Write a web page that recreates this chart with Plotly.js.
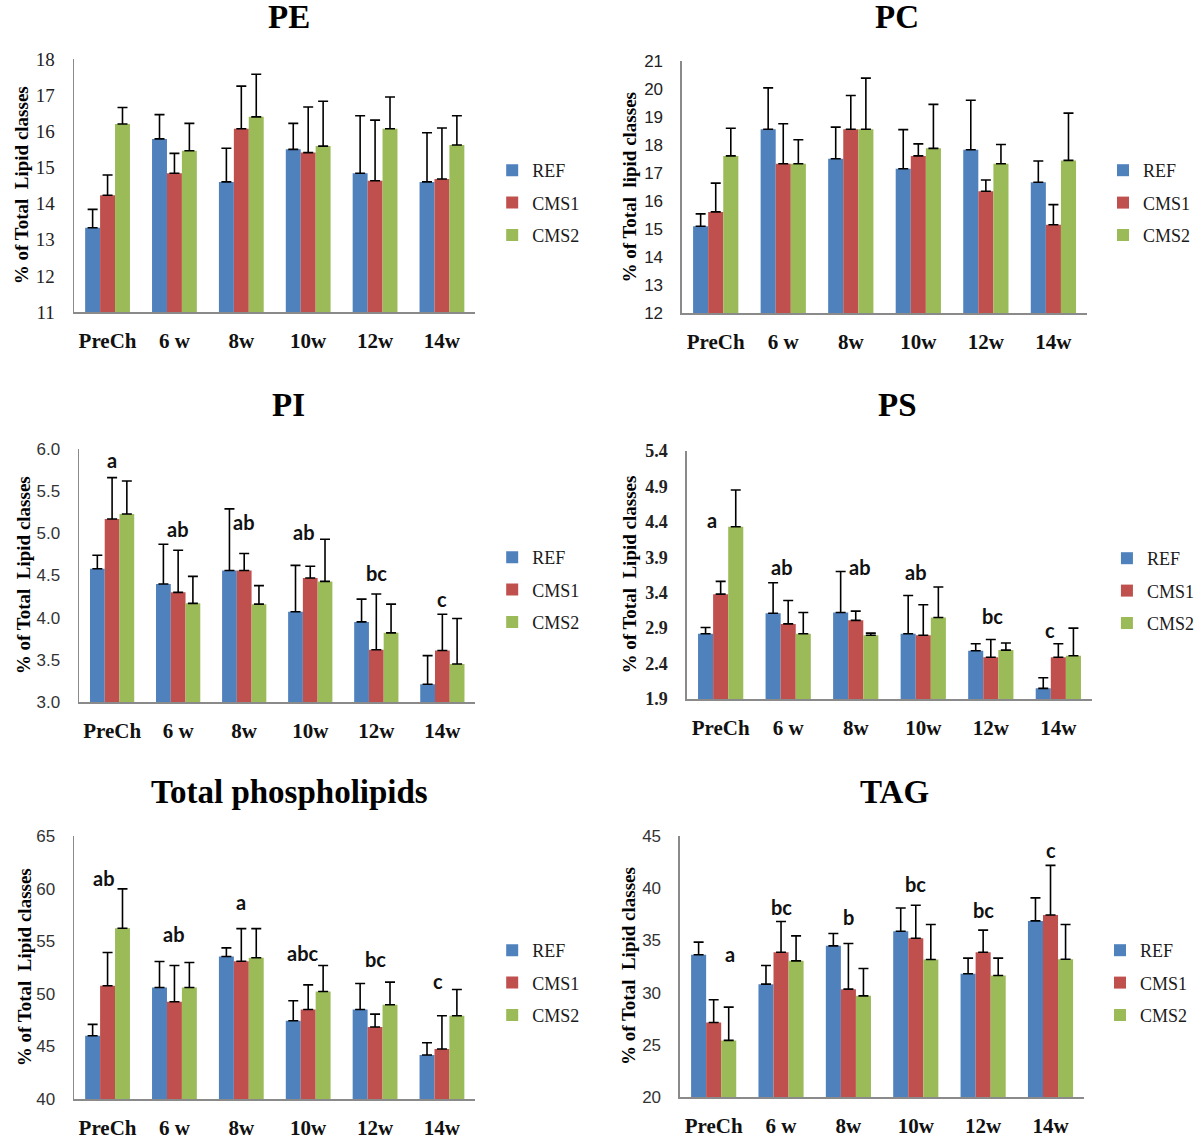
<!DOCTYPE html>
<html>
<head>
<meta charset="utf-8">
<script src="https://cdn.plot.ly/plotly-3.0.1.min.js"></script>
<style>html,body{margin:0;padding:0;background:#fff;}#chart{width:1200px;height:1142px;}</style>
</head>
<body>
<div id="chart"></div>
<script>
// ---------- data ----------
const categories = ['PreCh', '6 w', '8w', '10w', '12w', '14w'];
const seriesNames = ['REF', 'CMS1', 'CMS2'];

const PE_REF = [13.33, 15.79, 14.60, 15.50, 14.84, 14.60];
const PE_REF_SD = [0.51, 0.67, 0.93, 0.72, 1.59, 1.36];
const PE_CMS1 = [14.23, 14.84, 16.07, 15.41, 14.63, 14.68];
const PE_CMS1_SD = [0.56, 0.55, 1.18, 1.26, 1.68, 1.41];
const PE_CMS2 = [16.20, 15.46, 16.40, 15.59, 16.07, 15.62];
const PE_CMS2_SD = [0.46, 0.76, 1.18, 1.24, 0.88, 0.81];

const PC_REF = [15.10, 18.56, 17.51, 17.15, 17.83, 16.67];
const PC_REF_SD = [0.44, 1.48, 1.13, 1.40, 1.77, 0.76];
const PC_CMS1 = [15.61, 17.33, 18.56, 17.61, 16.35, 15.15];
const PC_CMS1_SD = [1.03, 1.43, 1.21, 0.43, 0.40, 0.72];
const PC_CMS2 = [17.61, 17.33, 18.56, 17.88, 17.33, 17.45];
const PC_CMS2_SD = [0.99, 0.86, 1.83, 1.57, 0.69, 1.69];

const PI_REF = [4.58, 4.40, 4.56, 4.07, 3.95, 3.21];
const PI_REF_SD = [0.16, 0.47, 0.73, 0.55, 0.27, 0.34];
const PI_CMS1 = [5.17, 4.30, 4.56, 4.47, 3.62, 3.61];
const PI_CMS1_SD = [0.49, 0.50, 0.20, 0.14, 0.66, 0.43];
const PI_CMS2 = [5.23, 4.17, 4.16, 4.43, 3.82, 3.45];
const PI_CMS2_SD = [0.39, 0.32, 0.22, 0.50, 0.34, 0.54];
const PI_LETTERS = ['a', 'ab', 'ab', 'ab', 'bc', 'c'];
const PI_LETTER_Y = [5.87, 5.05, 5.14, 5.02, 4.53, 4.22];

const PS_REF = [2.82, 3.11, 3.12, 2.82, 2.58, 2.05];
const PS_REF_SD = [0.09, 0.43, 0.58, 0.54, 0.10, 0.15];
const PS_CMS1 = [3.38, 2.96, 3.01, 2.80, 2.49, 2.49];
const PS_CMS1_SD = [0.18, 0.33, 0.13, 0.43, 0.25, 0.19];
const PS_CMS2 = [4.33, 2.82, 2.80, 3.05, 2.59, 2.51];
const PS_CMS2_SD = [0.52, 0.30, 0.03, 0.43, 0.10, 0.39];
const PS_LETTERS = ['a', 'ab', 'ab', 'ab', 'bc', 'c'];
const PS_LETTER_Y = [4.43, 3.77, 3.77, 3.69, 3.07, 2.88];

const TPL_REF = [46.01, 50.60, 53.54, 47.44, 48.51, 44.18];
const TPL_REF_SD = [1.08, 2.47, 0.83, 1.90, 2.47, 1.17];
const TPL_CMS1 = [50.76, 49.24, 53.10, 48.51, 46.84, 44.75];
const TPL_CMS1_SD = [3.16, 3.45, 3.10, 2.34, 1.23, 3.16];
const TPL_CMS2 = [56.23, 50.60, 53.42, 50.22, 48.96, 47.91];
const TPL_CMS2_SD = [3.74, 2.37, 2.78, 2.47, 2.15, 2.50];
const TPL_LETTERS = ['ab', 'ab', 'a', 'abc', 'bc', 'c'];
const TPL_LETTER_Y = [60.98, 55.66, 58.77, 53.86, 53.29, 51.23];

const TAG_REF = [33.62, 30.81, 34.48, 35.88, 31.80, 36.87];
const TAG_REF_SD = [1.21, 1.79, 1.18, 2.23, 1.50, 2.20];
const TAG_CMS1 = [27.14, 33.87, 30.33, 35.21, 33.87, 37.44];
const TAG_CMS1_SD = [2.17, 2.94, 4.37, 3.16, 2.11, 4.75];
const TAG_CMS2 = [25.42, 33.04, 29.69, 33.17, 31.64, 33.20];
const TAG_CMS2_SD = [3.19, 2.39, 2.62, 3.35, 1.66, 3.32];
const TAG_LETTERS = ['a', 'bc', 'b', 'bc', 'bc', 'c'];
const TAG_LETTER_Y = [33.71, 38.18, 37.22, 40.38, 37.92, 43.66];

// ---------- styling / layout ----------
const W = 1200, H = 1142;
const colors = ['#4F81BD', '#C0504D', '#9BBB59'];
const SERIF = 'Liberation Serif, Times New Roman, serif';
const SANS = 'Liberation Sans, Arial, sans-serif';

const panels = [
  {title: 'PE', vals: [PE_REF, PE_CMS1, PE_CMS2], sds: [PE_REF_SD, PE_CMS1_SD, PE_CMS2_SD],
   range: [11, 18], dtick: 1, fmt: 'd', tickFont: {family: SERIF, size: 19, color: '#222'},
   px: [75, 481], py: [59, 312], ytitle: '% of Total  Lipid classes', ytx: 22, legX: 498, legY: 203,
   titleX: 292, titleY: 17},
  {title: 'PC', vals: [PC_REF, PC_CMS1, PC_CMS2], sds: [PC_REF_SD, PC_CMS1_SD, PC_CMS2_SD],
   range: [12, 21], dtick: 1, fmt: 'd', tickFont: {family: SANS, size: 17, color: '#222'},
   px: [690, 1100], py: [61, 313], ytitle: '% of Total  lipid classes', ytx: 636, legX: 1116, legY: 203,
   titleX: 908, titleY: 17},
  {title: 'PI', vals: [PI_REF, PI_CMS1, PI_CMS2], sds: [PI_REF_SD, PI_CMS1_SD, PI_CMS2_SD],
   range: [3.0, 6.0], dtick: 0.5, fmt: '.1f', tickFont: {family: SANS, size: 17, color: '#333'},
   px: [80, 481], py: [449, 702], ytitle: '% of Total  Lipid classes', ytx: 24, legX: 498, legY: 590,
   titleX: 292, titleY: 405, letters: PI_LETTERS, letterY: PI_LETTER_Y, shifts: [0, 0, 0, -6, 0, 0]},
  {title: 'PS', vals: [PS_REF, PS_CMS1, PS_CMS2], sds: [PS_REF_SD, PS_CMS1_SD, PS_CMS2_SD],
   range: [1.9, 5.4], dtick: 0.5, fmt: '.1f', tickFont: {family: SERIF, size: 18, color: '#222', weight: 'bold'},
   px: [695, 1105], py: [451, 699], ytitle: '% of Total  Lipid classes', ytx: 636, legX: 1120, legY: 591,
   titleX: 908, titleY: 405, letters: PS_LETTERS, letterY: PS_LETTER_Y, shifts: [-9, -6, 4, -7, 2, -8]},
  {title: 'Total phospholipids', vals: [TPL_REF, TPL_CMS1, TPL_CMS2], sds: [TPL_REF_SD, TPL_CMS1_SD, TPL_CMS2_SD],
   range: [40, 65], dtick: 5, fmt: 'd', tickFont: {family: SANS, size: 17, color: '#333'},
   px: [75, 481], py: [836, 1099], ytitle: '% of Total  Lipid classes', ytx: 25, legX: 498, legY: 983,
   titleX: 293, titleY: 792, letters: TPL_LETTERS, letterY: TPL_LETTER_Y, shifts: [-4, 0, 0, -5, 0, -4]},
  {title: 'TAG', vals: [TAG_REF, TAG_CMS1, TAG_CMS2], sds: [TAG_REF_SD, TAG_CMS1_SD, TAG_CMS2_SD],
   range: [20, 45], dtick: 5, fmt: 'd', tickFont: {family: SANS, size: 17, color: '#333'},
   px: [688, 1097], py: [836, 1097], ytitle: '% of Total  Lipid classes', ytx: 636, legX: 1113, legY: 983,
   titleX: 905, titleY: 792, letters: TAG_LETTERS, letterY: TAG_LETTER_Y, shifts: [16, 0, 0, 0, 0, 0]}
];

const traces = [];
const layout = {
  width: W, height: H,
  margin: {l: 0, r: 0, t: 0, b: 0},
  paper_bgcolor: '#fff', plot_bgcolor: 'rgba(0,0,0,0)',
  barmode: 'group', bargap: 0.33, bargroupgap: 0,
  showlegend: true,
  annotations: []
};

panels.forEach((p, i) => {
  const n = i + 1;
  const xa = n === 1 ? 'x' : 'x' + n;
  const ya = n === 1 ? 'y' : 'y' + n;
  const lg = n === 1 ? 'legend' : 'legend' + n;
  seriesNames.forEach((name, s) => {
    traces.push({
      type: 'bar', name: name, x: categories, y: p.vals[s],
      xaxis: xa, yaxis: ya, legend: lg, legendgroup: 'g' + n + '_' + s,
      marker: {color: colors[s], line: {width: 0}},
      error_y: {type: 'data', symmetric: false, array: p.sds[s], arrayminus: p.sds[s].map(() => 0),
                color: '#000', thickness: 1.6, width: 5},
      hoverinfo: 'x+y+name'
    });
  });
  layout[(n === 1 ? 'xaxis' : 'xaxis' + n)] = {
    domain: [p.px[0] / W, p.px[1] / W], anchor: ya,
    type: 'category', showline: true, linecolor: '#8a8a8a', linewidth: 1.5,
    ticks: '', showgrid: false, zeroline: false,
    tickfont: {family: SERIF, size: 21, color: '#111', weight: 'bold'},
    ticklabelstandoff: 9, fixedrange: true
  };
  layout[(n === 1 ? 'yaxis' : 'yaxis' + n)] = {
    domain: [1 - p.py[1] / H, 1 - p.py[0] / H], anchor: xa,
    range: p.range, tick0: p.range[0], dtick: p.dtick, tickformat: p.fmt,
    showline: true, linecolor: '#8a8a8a', linewidth: 1.5,
    ticks: '', showgrid: false, zeroline: false,
    tickfont: p.tickFont, ticklabelstandoff: 14, fixedrange: true
  };
  layout[lg] = {
    x: p.legX / W, y: 1 - p.legY / H, xanchor: 'left', yanchor: 'middle',
    xref: 'paper', yref: 'paper',
    bgcolor: 'rgba(0,0,0,0)', borderwidth: 0,
    font: {family: SERIF, size: 18, color: '#1a1a1a'},
    traceorder: 'grouped', tracegroupgap: 6, itemwidth: 30
  };
  // panel title
  layout.annotations.push({
    text: p.title, xref: 'paper', yref: 'paper', x: p.titleX / W, y: 1 - p.titleY / H,
    xanchor: 'center', yanchor: 'middle', showarrow: false,
    font: {family: SERIF, size: 33, color: '#000', weight: 'bold'}
  });
  // y axis title
  layout.annotations.push({
    text: p.ytitle, xref: 'paper', yref: 'paper', x: p.ytx / W, y: 1 - ((p.py[0] + p.py[1]) / 2) / H,
    xanchor: 'center', yanchor: 'middle', showarrow: false, textangle: -90,
    font: {family: SERIF, size: 19, color: '#000', weight: 'bold'}
  });
  // significance letters
  if (p.letters) {
    p.letters.forEach((t, k) => {
      layout.annotations.push({
        text: t, xref: xa, yref: ya, x: categories[k], y: p.letterY[k],
        xanchor: 'center', yanchor: 'middle', showarrow: false, xshift: p.shifts[k],
        font: {family: 'Lato, Open Sans, sans-serif', size: 20, color: '#111', weight: 'bold'}
      });
    });
  }
});

Plotly.newPlot('chart', traces, layout, {staticPlot: true, displayModeBar: false});
</script>
</body>
</html>
